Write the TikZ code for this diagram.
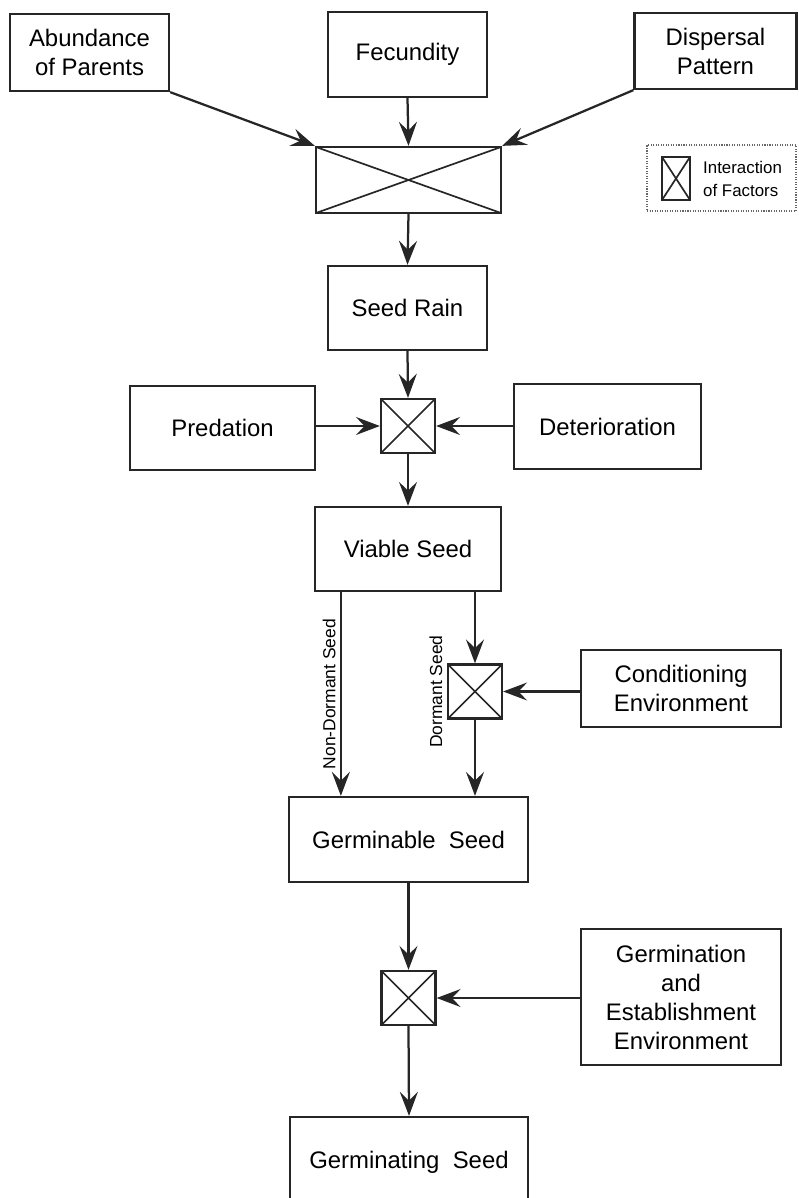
\documentclass[tikz,border=0pt]{standalone}
\usepackage{fontspec}
\setmainfont{Liberation Sans}
\usetikzlibrary{arrows.meta}

\begin{document}
\begin{tikzpicture}[x=0.025cm,y=-0.025cm]
  \tikzstyle{box}  =[draw=black!85, rectangle, line width=1.6pt, align=center, inner sep=0pt, text=black, font=\fontsize{17}{20.6}\selectfont]
  \tikzstyle{cross}=[draw=black!85, rectangle, line width=1.6pt, inner sep=0pt,
                     path picture={\draw[black!85, line width=1.2pt] (path picture bounding box.north west) -- (path picture bounding box.south east)
                                                                      (path picture bounding box.south west) -- (path picture bounding box.north east);}]
  \tikzstyle{flow} =[draw=black!85, line width=1.6pt, -{Stealth[length=0.6cm,width=0.45cm,inset=0.22cm]}]
  \tikzstyle{vlbl} =[rotate=90, inner sep=3pt, text=black, font=\fontsize{12.4}{14}\selectfont]
  \useasboundingbox (0,0) rectangle (798,1198);
  % factors of seed rain
  \node[box, minimum width=3.975cm, minimum height=1.925cm](abund) at (89.5,52.5) {Abundance\\of Parents};
  \node[box, minimum width=3.975cm, minimum height=2.125cm](fecund) at (407.5,54.5) {Fecundity};
  \node[box, minimum width=4.05cm, minimum height=1.9cm](disp) at (715.5,51) {Dispersal\\Pattern};
  \node[cross, minimum width=4.625cm, minimum height=1.65cm](mixa) at (408.5,180) {};
  % key
  \node[draw=black!60, densely dotted, line width=0.8pt, minimum width=3.725cm, minimum height=1.65cm](key) at (721.5,178) {};
  \node[cross, line width=1.3pt, minimum width=0.7cm, minimum height=1.075cm](keyx) at (676,178.5) {};
  \node[anchor=west, align=left, inner sep=0pt, text=black, font=\fontsize{12}{16.4}\selectfont](keytxt) at ([xshift=0.3cm]keyx.east) {Interaction\\of Factors};
  % main chain
  \node[box, minimum width=3.975cm, minimum height=2.1cm](rain) at (407.5,308) {Seed Rain};
  \node[cross, minimum size=1.35cm](mixb) at (408,426) {};
  \node[box, minimum width=4.625cm, minimum height=2.1cm](pred) at (222.5,428) {Predation};
  \node[box, minimum width=4.675cm, minimum height=2.125cm](deter) at (607.5,426.5) {Deterioration};
  \node[box, minimum width=4.65cm, minimum height=2.1cm](viable) at (408,549) {Viable Seed};
  \node[cross, minimum size=1.35cm](mixc) at (475,691.5) {};
  \node[box, minimum width=5cm, minimum height=1.925cm](cond) at (681,688.5) {Conditioning\\Environment};
  \node[box, minimum width=5.975cm, minimum height=2.125cm](germable) at (408.5,839.5) {Germinable\ \ Seed};
  \node[cross, minimum size=1.35cm](mixd) at (408.5,998) {};
  \node[box, minimum width=5cm, minimum height=3.4cm](estab) at (681,997) {Germination\\and\\Establishment\\Environment};
  \node[box, minimum width=5.95cm, minimum height=2.25cm](germing) at (409,1162) {Germinating\ \ Seed};
  \node[vlbl, anchor=south](dorm) at (mixc.west) {Dormant Seed};
  % connectors
  \draw[flow] (abund.south east) -- (mixa.north west);
  \draw[flow] (fecund.south) -- (mixa.north);
  \draw[flow] (disp.south west) -- (mixa.north east);
  \draw[flow] (mixa.south) -- (rain.north);
  \draw[flow] (rain.south) -- (mixb.north);
  \draw[flow] (pred.east |- mixb) -- (mixb.west);
  \draw[flow] (deter.west |- mixb) -- (mixb.east);
  \draw[flow] (mixb.south) -- (viable.north);
  \draw[flow] ([xshift=0.675cm]viable.south west) -- ([xshift=0.675cm]viable.south west |- germable.north)
    node[midway, vlbl, anchor=south]{Non-Dormant Seed};
  \draw[flow] (viable.south -| mixc) -- (mixc.north);
  \draw[flow] (cond.west |- mixc) -- (mixc.east);
  \draw[flow] (mixc.south) -- (germable.north -| mixc);
  \draw[flow] (germable.south) -- (mixd.north);
  \draw[flow] (estab.west |- mixd) -- (mixd.east);
  \draw[flow] (mixd.south) -- (germing.north);
\end{tikzpicture}
\end{document}
